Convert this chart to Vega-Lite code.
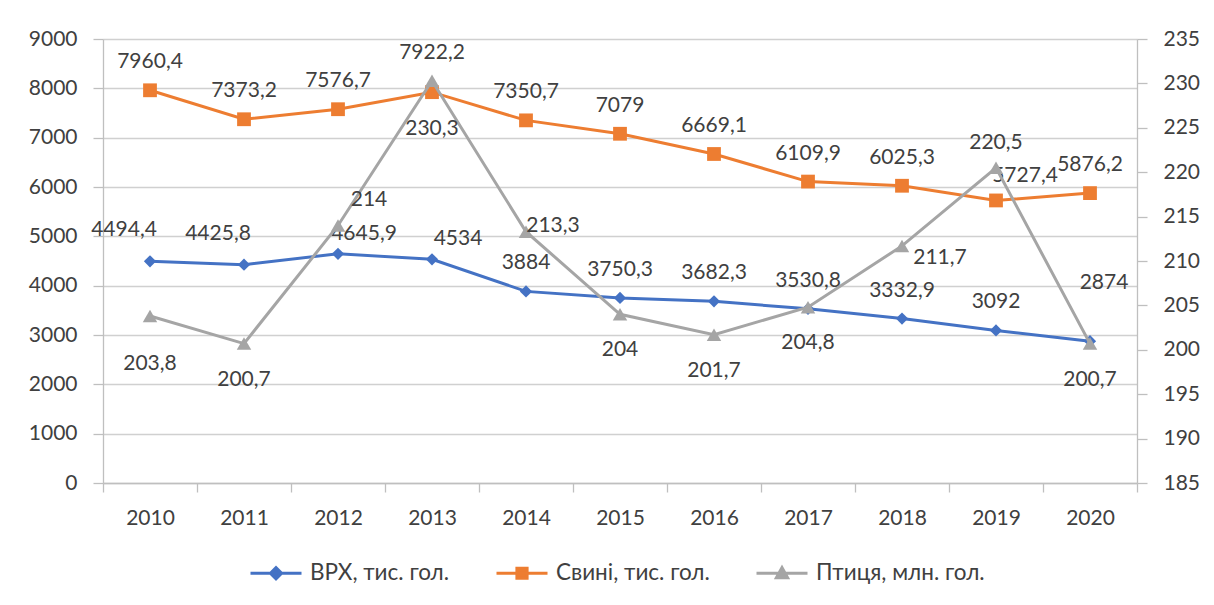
{
  "$schema": "https://vega.github.io/schema/vega-lite/v6.json",
  "width": 1034,
  "height": 444,
  "autosize": {"type": "none"},
  "padding": {"left": 103, "top": 39, "right": 77, "bottom": 122},
  "background": "white",
  "config": {
    "view": {"stroke": null},
    "font": "Lato",
    "axis": {
      "labelFont": "Lato",
      "labelFontSize": 21,
      "labelColor": "#404040",
      "domainColor": "#bfbfbf",
      "tickColor": "#bfbfbf",
      "gridColor": "#d0d0d0",
      "domainWidth": 1.3,
      "tickWidth": 1.3,
      "gridWidth": 1.3,
      "title": null
    },
    "text": {"font": "Lato", "fontSize": 21, "fill": "#404040", "align": "center", "baseline": "middle"}
  },
  "data": {
    "values": [
      {"series": "ВРХ, тис. гол.", "year": "2010", "value": 4494.4},
      {"series": "ВРХ, тис. гол.", "year": "2011", "value": 4425.8},
      {"series": "ВРХ, тис. гол.", "year": "2012", "value": 4645.9},
      {"series": "ВРХ, тис. гол.", "year": "2013", "value": 4534},
      {"series": "ВРХ, тис. гол.", "year": "2014", "value": 3884},
      {"series": "ВРХ, тис. гол.", "year": "2015", "value": 3750.3},
      {"series": "ВРХ, тис. гол.", "year": "2016", "value": 3682.3},
      {"series": "ВРХ, тис. гол.", "year": "2017", "value": 3530.8},
      {"series": "ВРХ, тис. гол.", "year": "2018", "value": 3332.9},
      {"series": "ВРХ, тис. гол.", "year": "2019", "value": 3092},
      {"series": "ВРХ, тис. гол.", "year": "2020", "value": 2874},
      {"series": "Свині, тис. гол.", "year": "2010", "value": 7960.4},
      {"series": "Свині, тис. гол.", "year": "2011", "value": 7373.2},
      {"series": "Свині, тис. гол.", "year": "2012", "value": 7576.7},
      {"series": "Свині, тис. гол.", "year": "2013", "value": 7922.2},
      {"series": "Свині, тис. гол.", "year": "2014", "value": 7350.7},
      {"series": "Свині, тис. гол.", "year": "2015", "value": 7079},
      {"series": "Свині, тис. гол.", "year": "2016", "value": 6669.1},
      {"series": "Свині, тис. гол.", "year": "2017", "value": 6109.9},
      {"series": "Свині, тис. гол.", "year": "2018", "value": 6025.3},
      {"series": "Свині, тис. гол.", "year": "2019", "value": 5727.4},
      {"series": "Свині, тис. гол.", "year": "2020", "value": 5876.2},
      {"series": "Птиця, млн. гол.", "year": "2010", "value": 203.8},
      {"series": "Птиця, млн. гол.", "year": "2011", "value": 200.7},
      {"series": "Птиця, млн. гол.", "year": "2012", "value": 214},
      {"series": "Птиця, млн. гол.", "year": "2013", "value": 230.3},
      {"series": "Птиця, млн. гол.", "year": "2014", "value": 213.3},
      {"series": "Птиця, млн. гол.", "year": "2015", "value": 204},
      {"series": "Птиця, млн. гол.", "year": "2016", "value": 201.7},
      {"series": "Птиця, млн. гол.", "year": "2017", "value": 204.8},
      {"series": "Птиця, млн. гол.", "year": "2018", "value": 211.7},
      {"series": "Птиця, млн. гол.", "year": "2019", "value": 220.5},
      {"series": "Птиця, млн. гол.", "year": "2020", "value": 200.7}
    ]
  },
  "transform": [
    {"calculate": "replace(toString(datum.value), '.', ',')", "as": "label"}
  ],
  "encoding": {
    "x": {
      "field": "year",
      "type": "ordinal",
      "scale": {"type": "band", "paddingInner": 0, "paddingOuter": 0},
      "axis": {"tickBand": "extent", "labelAngle": 0, "tickSize": 9, "labelPadding": 15, "grid": false, "domain": true}
    }
  },
  "layer": [
    {
      "transform": [{"filter": "datum.series !== 'Птиця, млн. гол.'"}],
      "encoding": {
        "y": {
          "field": "value",
          "type": "quantitative",
          "scale": {"domain": [0, 9000], "nice": false, "zero": false},
          "axis": {"orient": "left", "format": "d", "values": [0, 1000, 2000, 3000, 4000, 5000, 6000, 7000, 8000, 9000], "grid": true, "tickSize": 10, "labelPadding": 16, "domain": true}
        }
      },
      "layer": [
        {
          "mark": {"type": "line", "strokeWidth": 3},
          "encoding": {
            "color": {
              "field": "series",
              "type": "nominal",
              "scale": {
                "domain": ["ВРХ, тис. гол.", "Свині, тис. гол.", "Птиця, млн. гол."],
                "range": ["#4472C4", "#ED7D31", "#A5A5A5"]
              },
              "legend": {
                "title": null,
                "orient": "none",
                "legendX": 146,
                "legendY": 507,
                "direction": "horizontal",
                "padding": 0,
                "labelFont": "Lato",
                "labelFontSize": 22.5,
                "labelLimit": 400,
                "labelColor": "#404040",
                "labelOffset": 7,
                "columnPadding": 40,
                "symbolSize": 2601,
                "symbolStrokeWidth": 3,
                "symbolType": "M-1,0H1",
                "encode": {
                  "symbols": {
                    "update": {
                      "shape": {"signal": "datum.value === 'ВРХ, тис. гол.' ? 'M-1,0H1M-0.22,0L0,-0.22L0.22,0L0,0.22Z' : datum.value === 'Свині, тис. гол.' ? 'M-1,0H1M-0.2,-0.2H0.2V0.2H-0.2Z' : 'M-1,0H1M-0.22,0.18L0,-0.22L0.22,0.18Z'"},
                      "fill": {"scale": "color", "field": "value"},
                      "stroke": {"scale": "color", "field": "value"},
                      "strokeWidth": {"value": 3},
                      "opacity": {"value": 1}
                    }
                  }
                }
              }
            }
          }
        },
        {
          "transform": [{"filter": "datum.series === 'ВРХ, тис. гол.'"}],
          "mark": {"type": "point", "shape": "diamond", "filled": true, "opacity": 1, "size": 150, "color": "#4472C4"}
        },
        {
          "transform": [{"filter": "datum.series === 'Свині, тис. гол.'"}],
          "mark": {"type": "point", "shape": "square", "filled": true, "opacity": 1, "size": 190, "color": "#ED7D31"}
        },
        {
          "transform": [{"filter": "datum.series === 'Свині, тис. гол.' && indexof(['2013','2019'], datum.year) < 0"}],
          "mark": {"type": "text", "dy": -28},
          "encoding": {"text": {"field": "label"}}
        },
        {
          "transform": [{"filter": "datum.series === 'Свині, тис. гол.' && datum.year === '2013'"}],
          "mark": {"type": "text", "dy": -39},
          "encoding": {"text": {"field": "label"}}
        },
        {
          "transform": [{"filter": "datum.series === 'Свині, тис. гол.' && datum.year === '2019'"}],
          "mark": {"type": "text", "dx": 29, "dy": -24},
          "encoding": {"text": {"field": "label"}}
        },
        {
          "transform": [{"filter": "datum.series === 'ВРХ, тис. гол.' && indexof(['2010','2011','2012','2013','2020'], datum.year) < 0"}],
          "mark": {"type": "text", "dy": -28},
          "encoding": {"text": {"field": "label"}}
        },
        {
          "transform": [{"filter": "datum.series === 'ВРХ, тис. гол.' && indexof(['2010','2011'], datum.year) >= 0"}],
          "mark": {"type": "text", "dx": -26, "dy": -31},
          "encoding": {"text": {"field": "label"}}
        },
        {
          "transform": [{"filter": "datum.series === 'ВРХ, тис. гол.' && indexof(['2012','2013'], datum.year) >= 0"}],
          "mark": {"type": "text", "dx": 26, "dy": -20},
          "encoding": {"text": {"field": "label"}}
        },
        {
          "transform": [{"filter": "datum.series === 'ВРХ, тис. гол.' && datum.year === '2020'"}],
          "mark": {"type": "text", "dx": 14, "dy": -58},
          "encoding": {"text": {"field": "label"}}
        }
      ]
    },
    {
      "transform": [{"filter": "datum.series === 'Птиця, млн. гол.'"}],
      "encoding": {
        "y": {
          "field": "value",
          "type": "quantitative",
          "scale": {"domain": [185, 235], "nice": false, "zero": false},
          "axis": {"orient": "right", "values": [185, 190, 195, 200, 205, 210, 215, 220, 225, 230, 235], "grid": false, "tickSize": 10, "labelPadding": 16, "domain": true}
        }
      },
      "layer": [
        {
          "mark": {"type": "line", "strokeWidth": 3},
          "encoding": {"color": {"field": "series", "type": "nominal"}}
        },
        {
          "mark": {"type": "point", "shape": "triangle-up", "filled": true, "opacity": 1, "size": 210, "color": "#A5A5A5"}
        },
        {
          "transform": [{"filter": "indexof(['2011','2015','2016','2017','2020'], datum.year) >= 0"}],
          "mark": {"type": "text", "dy": 36},
          "encoding": {"text": {"field": "label"}}
        },
        {
          "transform": [{"filter": "indexof(['2010','2013'], datum.year) >= 0"}],
          "mark": {"type": "text", "dy": 48},
          "encoding": {"text": {"field": "label"}}
        },
        {
          "transform": [{"filter": "datum.year === '2019'"}],
          "mark": {"type": "text", "dy": -25},
          "encoding": {"text": {"field": "label"}}
        },
        {
          "transform": [{"filter": "datum.year === '2012'"}],
          "mark": {"type": "text", "dx": 31, "dy": -25},
          "encoding": {"text": {"field": "label"}}
        },
        {
          "transform": [{"filter": "datum.year === '2014'"}],
          "mark": {"type": "text", "dx": 27, "dy": -6},
          "encoding": {"text": {"field": "label"}}
        },
        {
          "transform": [{"filter": "datum.year === '2018'"}],
          "mark": {"type": "text", "dx": 38, "dy": 12},
          "encoding": {"text": {"field": "label"}}
        }
      ]
    }
  ],
  "resolve": {"scale": {"y": "independent"}}
}
